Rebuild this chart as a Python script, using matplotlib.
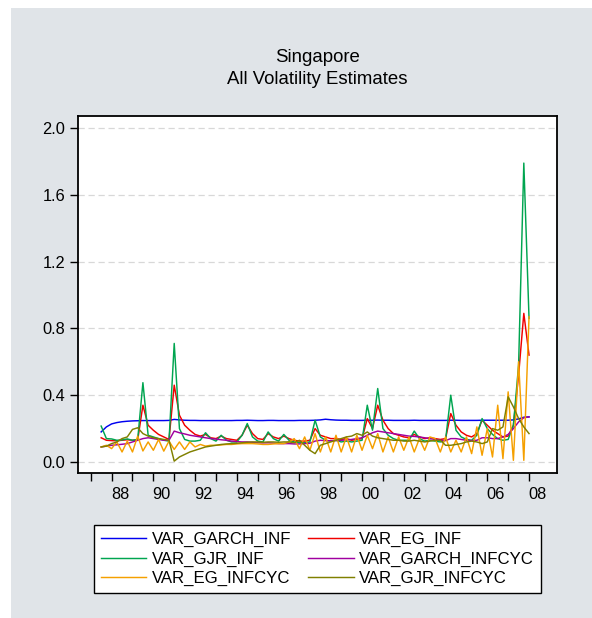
import numpy as np
import matplotlib
matplotlib.use("Agg")
import matplotlib.pyplot as plt
from matplotlib.patches import Rectangle

plt.rcParams['font.family'] = ['Liberation Sans', 'DejaVu Sans']

# Quarterly sample 1987Q3 - 2008Q1
start_year = 1987
start_quarter = 3

var_garch_inf = [
    0.180, 0.210, 0.228, 0.236, 0.241, 0.244, 0.246, 0.247, 0.248, 0.248,
    0.248, 0.248, 0.248, 0.249, 0.255, 0.252, 0.250, 0.249, 0.249, 0.248,
    0.248, 0.248, 0.248, 0.248, 0.248, 0.248, 0.249, 0.249, 0.250, 0.249,
    0.248, 0.248, 0.249, 0.249, 0.248, 0.248, 0.248, 0.248, 0.249, 0.249,
    0.249, 0.250, 0.252, 0.256, 0.253, 0.251, 0.250, 0.250, 0.249, 0.249,
    0.249, 0.250, 0.250, 0.251, 0.250, 0.250, 0.249, 0.249, 0.249, 0.249,
    0.250, 0.249, 0.249, 0.249, 0.249, 0.249, 0.249, 0.250, 0.250, 0.249,
    0.249, 0.249, 0.249, 0.250, 0.250, 0.250, 0.250, 0.250, 0.250, 0.252,
    0.258, 0.268, 0.270,
]
var_eg_inf = [
    0.145, 0.130, 0.128, 0.127, 0.130, 0.133, 0.130, 0.132, 0.340, 0.220,
    0.190, 0.165, 0.150, 0.135, 0.460, 0.280, 0.220, 0.190, 0.165, 0.155,
    0.165, 0.145, 0.140, 0.155, 0.140, 0.135, 0.130, 0.160, 0.220, 0.170,
    0.140, 0.135, 0.170, 0.150, 0.140, 0.155, 0.140, 0.130, 0.125, 0.125,
    0.130, 0.200, 0.160, 0.150, 0.140, 0.140, 0.135, 0.140, 0.130, 0.135,
    0.140, 0.260, 0.200, 0.340, 0.250, 0.200, 0.170, 0.160, 0.150, 0.145,
    0.165, 0.150, 0.140, 0.145, 0.140, 0.135, 0.140, 0.290, 0.220, 0.180,
    0.160, 0.150, 0.170, 0.250, 0.220, 0.190, 0.170, 0.150, 0.155, 0.220,
    0.520, 0.890, 0.640,
]
var_gjr_inf = [
    0.215, 0.140, 0.138, 0.130, 0.132, 0.138, 0.130, 0.135, 0.475, 0.160,
    0.150, 0.140, 0.130, 0.125, 0.710, 0.200, 0.135, 0.125, 0.125, 0.130,
    0.175, 0.140, 0.125, 0.160, 0.130, 0.120, 0.120, 0.160, 0.230, 0.150,
    0.125, 0.120, 0.180, 0.140, 0.125, 0.165, 0.130, 0.120, 0.115, 0.115,
    0.120, 0.250, 0.150, 0.130, 0.125, 0.130, 0.120, 0.125, 0.120, 0.125,
    0.130, 0.340, 0.190, 0.440, 0.200, 0.160, 0.140, 0.130, 0.130, 0.130,
    0.185, 0.140, 0.125, 0.130, 0.125, 0.120, 0.130, 0.400, 0.190, 0.150,
    0.135, 0.130, 0.160, 0.260, 0.200, 0.165, 0.140, 0.130, 0.135, 0.220,
    0.580, 1.790, 0.860,
]
var_garch_infcyc = [
    0.090, 0.095, 0.100, 0.103, 0.106, 0.110, 0.120, 0.130, 0.140, 0.145,
    0.140, 0.135, 0.130, 0.130, 0.185, 0.175, 0.168, 0.160, 0.155, 0.150,
    0.145, 0.140, 0.137, 0.133, 0.130, 0.125, 0.122, 0.120, 0.120, 0.118,
    0.115, 0.114, 0.115, 0.113, 0.110, 0.110, 0.110, 0.108, 0.108, 0.110,
    0.112, 0.125, 0.130, 0.128, 0.127, 0.128, 0.130, 0.132, 0.135, 0.140,
    0.145, 0.160, 0.175, 0.185, 0.180, 0.175, 0.170, 0.165, 0.160, 0.155,
    0.153, 0.150, 0.145, 0.140, 0.135, 0.130, 0.128, 0.140, 0.140, 0.135,
    0.130, 0.128, 0.130, 0.145, 0.145, 0.140, 0.140, 0.150, 0.165, 0.200,
    0.240, 0.265, 0.270,
]
var_eg_infcyc = [
    0.090, 0.100, 0.080, 0.120, 0.060, 0.125, 0.060, 0.155, 0.066, 0.120,
    0.070, 0.135, 0.065, 0.125, 0.075, 0.120, 0.075, 0.120, 0.090, 0.105,
    0.095, 0.100, 0.100, 0.102, 0.105, 0.105, 0.108, 0.110, 0.110, 0.110,
    0.108, 0.105, 0.105, 0.108, 0.110, 0.110, 0.120, 0.140, 0.080, 0.150,
    0.070, 0.170, 0.060, 0.150, 0.060, 0.160, 0.060, 0.150, 0.060, 0.160,
    0.070, 0.160, 0.080, 0.170, 0.060, 0.150, 0.060, 0.150, 0.070, 0.150,
    0.060, 0.140, 0.070, 0.150, 0.140, 0.060, 0.150, 0.060, 0.130, 0.060,
    0.150, 0.050, 0.210, 0.040, 0.200, 0.030, 0.340, 0.020, 0.420, 0.010,
    0.600, 0.010, 0.870,
]
var_gjr_infcyc = [
    0.090, 0.095, 0.110, 0.120, 0.140, 0.150, 0.195, 0.205, 0.170, 0.155,
    0.145, 0.140, 0.135, 0.130, 0.005, 0.030, 0.045, 0.060, 0.070, 0.080,
    0.090, 0.095, 0.100, 0.105, 0.108, 0.110, 0.112, 0.115, 0.118, 0.120,
    0.120, 0.118, 0.120, 0.120, 0.118, 0.120, 0.120, 0.115, 0.130, 0.100,
    0.070, 0.050, 0.100, 0.110, 0.120, 0.130, 0.140, 0.150, 0.155, 0.170,
    0.160, 0.180, 0.155, 0.145, 0.140, 0.135, 0.130, 0.130, 0.125, 0.125,
    0.130, 0.125, 0.120, 0.125, 0.130, 0.130, 0.100, 0.100, 0.105, 0.110,
    0.120, 0.125, 0.120, 0.110, 0.120, 0.200, 0.190, 0.210, 0.390, 0.330,
    0.260, 0.210, 0.170,
]

series_names = ["VAR_GARCH_INF", "VAR_EG_INF", "VAR_GJR_INF",
                "VAR_GARCH_INFCYC", "VAR_EG_INFCYC", "VAR_GJR_INFCYC"]
series_values = [var_garch_inf, var_eg_inf, var_gjr_inf,
                 var_garch_infcyc, var_eg_infcyc, var_gjr_infcyc]
series_colors = ["#0000f0", "#f00000", "#00a550", "#a000a0", "#f5a000", "#808000"]

y_ticks = [0.0, 0.4, 0.8, 1.2, 1.6, 2.0]
tick_years = list(range(1987, 2009))
label_years = list(range(1988, 2009, 2))
year_labels = [f"{y % 100:02d}" for y in label_years]

n = len(var_garch_inf)
t = start_year + (start_quarter - 1) / 4 + np.arange(n) / 4

W, H = 592, 618
fig = plt.figure(figsize=(W / 100, H / 100), dpi=100)
fig.patch.set_facecolor("white")
fig.patches.append(Rectangle((11 / W, 0), 1 - 11 / W, 1 - 8 / H,
                             transform=fig.transFigure, facecolor="#e0e4e8",
                             edgecolor="none", zorder=-10))

ax_l, ax_r, ax_t, ax_b = 78, 557, 116, 473
ax = fig.add_axes([ax_l / W, 1 - ax_b / H, (ax_r - ax_l) / W, (ax_b - ax_t) / H])
ax.set_zorder(1)
ax.set_facecolor("white")

lines = []
for name, vals, col in zip(series_names, series_values, series_colors):
    ln, = ax.plot(t, vals, color=col, lw=1.05, label=name, zorder=3)
    lines.append(ln)

ax.set_xlim(1986.39, 2009.34)
ax.set_ylim(-0.066, 2.072)

ax.set_yticks(y_ticks)
ax.set_yticklabels([f"{v:.1f}" for v in y_ticks])
for v in y_ticks:
    ax.axhline(v, color="#d8d8d8", lw=0.9, ls=(0, (5, 3)), zorder=1)

ax.set_xticks(tick_years)
ax.set_xticklabels([""] * len(tick_years))
ax.set_xticks([y + 0.4 for y in label_years], minor=True)
ax.set_xticklabels(year_labels, minor=True)
ax.tick_params(axis="x", which="major", direction="out", length=6, width=1.0, color="black")
ax.tick_params(axis="x", which="minor", length=0, pad=10, labelsize=11.8)
ax.tick_params(axis="y", direction="out", length=6, width=1.0, pad=3, labelsize=11.8)

for sp in ax.spines.values():
    sp.set_linewidth(1.3)
    sp.set_color("black")

fig.text(317.5 / W, 1 - 62 / H, "Singapore", ha="center", va="baseline", fontsize=13.4)
fig.text(317.5 / W, 1 - 84.5 / H, "All Volatility Estimates", ha="center", va="baseline",
         fontsize=13.4)

order = [0, 2, 4, 1, 3, 5]
leg = ax.legend([lines[i] for i in order], [series_names[i] for i in order],
                ncol=2, loc="upper left", bbox_to_anchor=(94 / W, 1 - 525 / H),
                bbox_transform=fig.transFigure, borderaxespad=0,
                frameon=True, fancybox=False, shadow=False, framealpha=1,
                edgecolor="black", facecolor="white", fontsize=12.1,
                handlelength=2.7, handletextpad=0.33, columnspacing=1.0,
                labelspacing=0.26, borderpad=0.42)
leg.get_frame().set_linewidth(1.0)

fig.savefig("out.png", dpi=100)
